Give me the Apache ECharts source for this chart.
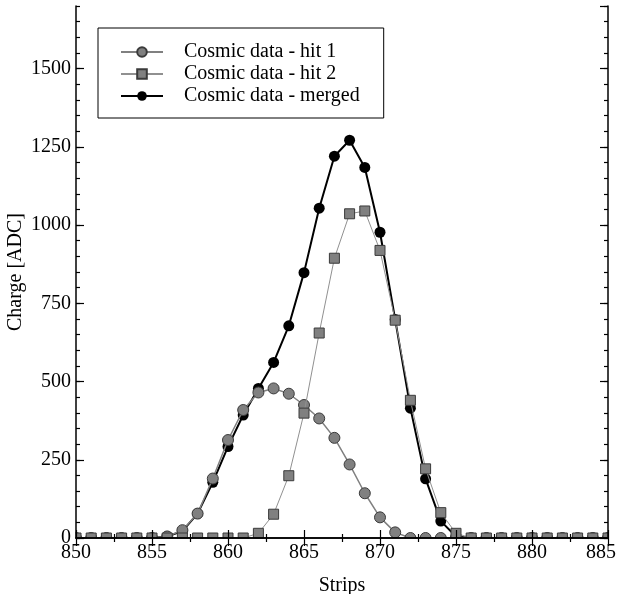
<!DOCTYPE html>
<html><head><meta charset="utf-8">
<script src="https://cdn.jsdelivr.net/npm/echarts@6/dist/echarts.min.js"></script>
<style>html,body{margin:0;padding:0;background:#fff}#c{width:618px;height:594px}</style>
</head><body><div id="c"></div>
<script>
const strips = [850,851,852,853,854,855,856,857,858,859,860,861,862,863,864,865,866,867,868,869,870,871,872,873,874,875,876,877,878,879,880,881,882,883,884,885];
const hit1   = [0,0,0,0,0,0,5,25,78,190,313,409,465,478,461,425,382,320,235,143,66,18,0,0,0,0,0,0,0,0,0,0,0,0,0,0];
const hit2   = [0,0,0,0,0,0,0,0,0,0,0,0,15,76,199,399,655,894,1036,1045,919,696,440,221,81,15,0,0,0,0,0,0,0,0,0,0];
const merged = [0,0,0,0,0,0,5,22,78,178,292,393,478,561,678,848,1054,1220,1271,1184,977,698,415,189,54,5,0,0,0,0,0,0,0,0,0,0];
const seriesNames = ['Cosmic data - hit 1','Cosmic data - hit 2','Cosmic data - merged'];
const xTicks = {min:850, max:885, major:5};
const yTicks = {min:0, max:1700, major:250, minor:50};
const xTitle = 'Strips';
const yTitle = 'Charge [ADC]';

const FONT = 'Liberation Serif';
const G = {left:76, right:10, top:6, bottom:56, W:618, H:594};
const pr = (arr) => strips.map((s,i)=>[s,arr[i]]);

const chart = echarts.init(document.getElementById('c'), null, {renderer:'canvas'});
const axisLine = {show:true, lineStyle:{color:'#000', width:1.5}};
const lbl = {fontFamily:FONT, fontSize:20, color:'#000'};
function xAx(pos, labels){
  return {type:'value', position:pos, min:xTicks.min, max:xTicks.max, interval:xTicks.major, z:10,
    axisLine:axisLine, splitLine:{show:false},
    axisTick:{show:true, inside:true, length:8, lineStyle:{color:'#000', width:1.2}},
    minorTick:{show:true, splitNumber:2, length:4, lineStyle:{color:'#000', width:1.2}},
    axisLabel: labels ? Object.assign({show:true, margin:5,
        formatter:(v)=> v===xTicks.max ? '{e|'+v+'}' : String(v),
        rich:{e:{fontFamily:FONT, fontSize:20, color:'#000', padding:[0,14,0,0]}}}, lbl) : {show:false},
    name: labels ? xTitle : '', nameLocation:'middle', nameGap:38, nameMoveOverlap:false,
    nameTextStyle:{fontFamily:FONT, fontSize:20, color:'#000'}};
}
function yAx(pos, interval, len, labels, line){
  return {type:'value', position:pos, min:yTicks.min, max:yTicks.max, interval:interval, z:10,
    axisLine: line ? axisLine : {show:false}, splitLine:{show:false},
    axisTick:{show:true, inside:true, length:len, lineStyle:{color:'#000', width:1.2}},
    axisLabel: labels ? Object.assign({show:true, margin:5, showMaxLabel:false, formatter:(v)=>String(v)}, lbl) : {show:false},
    name: labels ? yTitle : '', nameLocation:'middle', nameGap:50, nameRotate:90, nameMoveOverlap:false,
    nameTextStyle:{fontFamily:FONT, fontSize:20, color:'#000'}};
}
const plotR = G.W - G.right, plotB = G.H - G.bottom;
chart.setOption({
  animation:false,
  backgroundColor:'#fff',
  grid:{left:G.left, right:G.right, top:G.top, bottom:G.bottom, containLabel:false, outerBoundsMode:'none'},
  xAxis:[xAx('bottom', true), xAx('top', false)],
  yAxis:[yAx('left', yTicks.major, 8, true, true), yAx('left', yTicks.minor, 4, false, false),
         yAx('right', yTicks.major, 8, false, true), yAx('right', yTicks.minor, 4, false, false)],
  legend:{
    data:seriesNames, left:98, top:28, orient:'vertical',
    padding:[14,24,12,22], itemGap:2, itemWidth:42, itemHeight:12,
    borderColor:'#000', borderWidth:1, backgroundColor:'#fff',
    textStyle:{fontFamily:FONT, fontSize:20, color:'#000', padding:[0,0,0,16]}
  },
  series:[
    {name:seriesNames[0], type:'line', data:pr(hit1), z:3, symbol:'circle', symbolSize:11,
     lineStyle:{color:'#808080', width:1.5}, itemStyle:{color:'#808080', borderColor:'#3a3a3a', borderWidth:1}},
    {name:seriesNames[1], type:'line', data:pr(hit2), z:4, symbol:'rect', symbolSize:10,
     lineStyle:{color:'#909090', width:1}, itemStyle:{color:'#808080', borderColor:'#3a3a3a', borderWidth:1}},
    {name:seriesNames[2], type:'line', data:pr(merged), z:2, symbol:'circle', symbolSize:11,
     lineStyle:{color:'#000', width:2}, itemStyle:{color:'#000', borderColor:'#000', borderWidth:0}}
  ],
  graphic:[
    {type:'rect', z:5, silent:true, shape:{x:G.left-20, y:plotB+0.5, width:G.W, height:10}, style:{fill:'#fff'}},
    {type:'rect', z:5, silent:true, shape:{x:G.left-14, y:0, width:13.5, height:plotB+1}, style:{fill:'#fff'}},
    {type:'rect', z:5, silent:true, shape:{x:plotR+0.5, y:0, width:12, height:plotB+1}, style:{fill:'#fff'}}
  ]
});
</script></body></html>
